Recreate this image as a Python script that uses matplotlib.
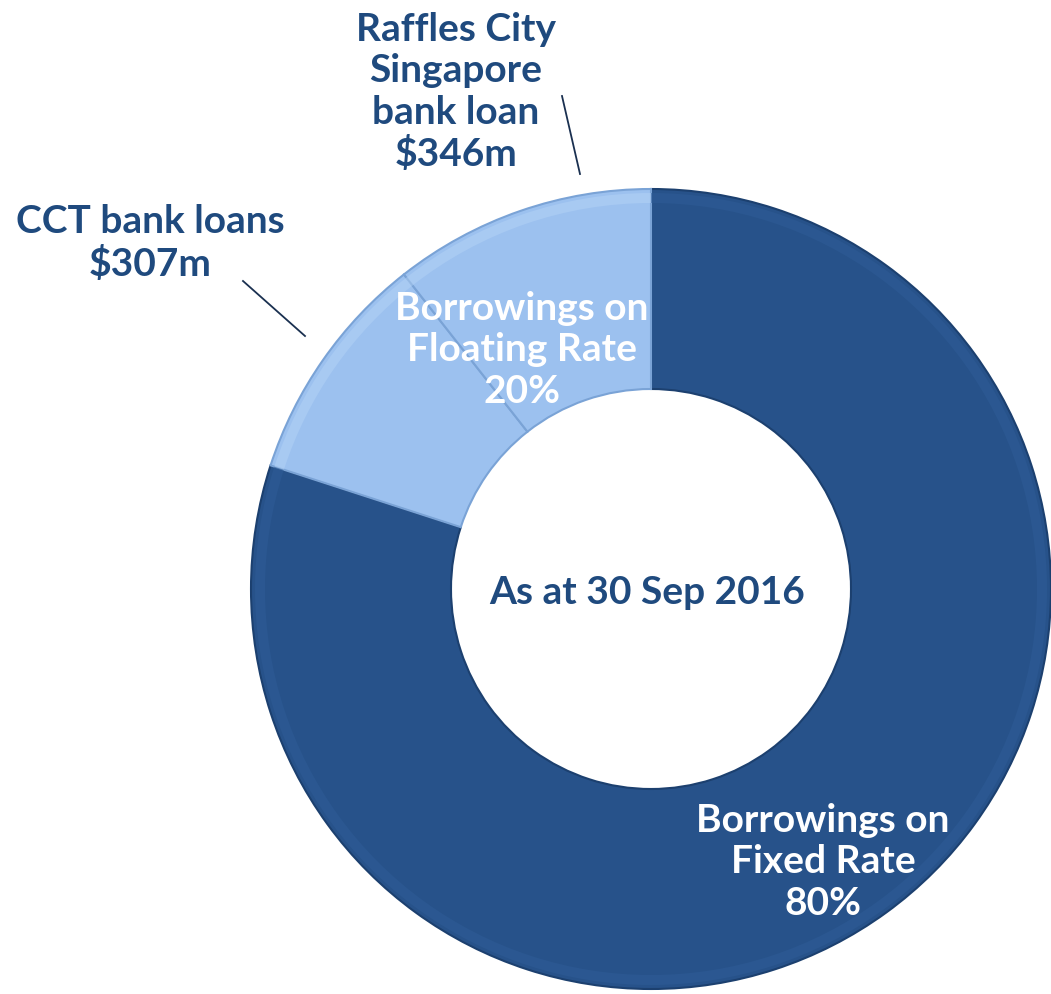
import matplotlib
matplotlib.use("Agg")
import matplotlib.pyplot as plt

# borrowings as at 30 Sep 2016
fixed_pct = 80
floating_pct = 20
floating_names = ["CCT bank loans", "Raffles City\nSingapore\nbank loan"]
floating_amounts = [307, 346]   # $m

dark_blue = "#27528a"
light_blue = "#9cc1ef"
navy = "#1f4a7e"

total_float = sum(floating_amounts)
sizes = [fixed_pct] + [floating_pct * a / total_float for a in floating_amounts]
colors = [dark_blue, light_blue, light_blue]
edges = ["#1c406f", "#7aa3d6", "#7aa3d6"]
rim = ["#2f5d98", "#b4d3f6", "#b4d3f6"]

fig = plt.figure(figsize=(10.51, 9.95), dpi=100)
ax = fig.add_axes([0, 0, 1, 1])

cx, cy, R = 651, 405, 400

wedges, _ = ax.pie(sizes, colors=colors, startangle=90, counterclock=False,
                   center=(cx, cy), radius=R,
                   wedgeprops=dict(width=200, linewidth=1.5))
for w, ec in zip(wedges, edges):
    w.set_edgecolor(ec)
    w.set_zorder(1)
# soft rim highlight to hint at the bevel of the original
hl, _ = ax.pie(sizes, colors=rim, startangle=90, counterclock=False,
               center=(cx, cy), radius=R - 4, wedgeprops=dict(width=10, linewidth=0))
for w in hl:
    w.set_alpha(0.5)
    w.set_zorder(2)

# pie() resets the limits, so set them afterwards
ax.set_xlim(0, 1051)
ax.set_ylim(0, 995)
ax.set_aspect("equal")
ax.axis("off")

font = "Lato"
fs = 28
ls = 1.22

ax.text(647, 995 - 593, "As at 30 Sep 2016", ha="center", va="center",
        color=navy, fontsize=fs, fontweight="bold", family=font, zorder=5)

ax.text(823, 995 - 862, "Borrowings on\nFixed Rate\n%d%%" % fixed_pct,
        ha="center", va="center", color="white", fontsize=fs,
        fontweight="bold", family=font, linespacing=ls, zorder=5)
ax.text(522, 995 - 350, "Borrowings on\nFloating Rate\n%d%%" % floating_pct,
        ha="center", va="center", color="white", fontsize=fs,
        fontweight="bold", family=font, linespacing=ls, zorder=5)

ax.text(150, 995 - 243, "%s\n$%dm" % (floating_names[0], floating_amounts[0]),
        ha="center", va="center", color=navy, fontsize=fs,
        fontweight="bold", family=font, linespacing=ls, zorder=5)
ax.text(456, 995 - 92, "%s\n$%dm" % (floating_names[1], floating_amounts[1]),
        ha="center", va="center", color=navy, fontsize=fs,
        fontweight="bold", family=font, linespacing=ls, zorder=5)

# leader lines
ax.plot([243, 305], [995 - 282, 995 - 337], color="#1a3050", lw=1.3)
ax.plot([562, 580], [995 - 97, 995 - 175], color="#1a3050", lw=1.3)

fig.savefig("out.png", dpi=100)
